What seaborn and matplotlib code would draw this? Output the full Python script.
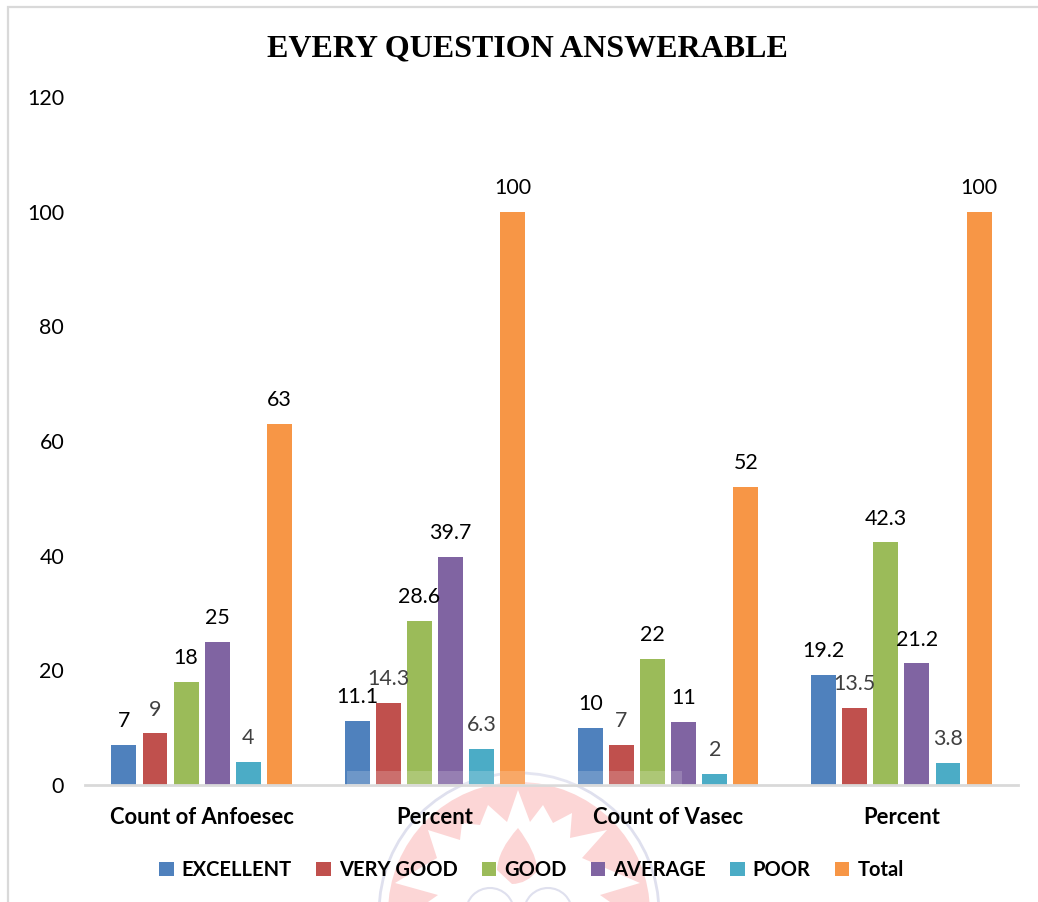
import matplotlib
matplotlib.use("Agg")
import matplotlib.pyplot as plt
import seaborn as sns
import pandas as pd
from matplotlib.patches import Circle, Polygon, Rectangle, PathPatch
from matplotlib.path import Path

group_labels = ["Count of Anfoesec", "Percent", "Count of Vasec", "Percent"]
excellent = [7, 11.1, 10, 19.2]
very_good = [9, 14.3, 7, 13.5]
good = [18, 28.6, 22, 42.3]
average = [25, 39.7, 11, 21.2]
poor = [4, 6.3, 2, 3.8]
total = [63, 100, 52, 100]
series_names = ["EXCELLENT", "VERY GOOD", "GOOD", "AVERAGE", "POOR", "Total"]
series_values = [excellent, very_good, good, average, poor, total]
colors = ["#4F81BD", "#C0504D", "#9BBB59", "#8064A2", "#4BACC6", "#F79646"]
label_colors = ["#000000", "#404040", "#000000", "#000000", "#404040", "#000000"]
yticks = [0, 20, 40, 60, 80, 100, 120]
title = "EVERY QUESTION ANSWERABLE"

df = pd.DataFrame(
    [{"group": g, "series": n, "value": v}
     for n, vals in zip(series_names, series_values)
     for g, v in enumerate(vals)]
)

W, H = 1038, 902
sns.set_theme(style="white")
plt.rcParams["font.family"] = ["Lato", "DejaVu Sans"]
fig = plt.figure(figsize=(W / 100, H / 100), dpi=100, facecolor="white")

# Background layer in pixel space: page frame and faint emblem watermark
bg = fig.add_axes([0, 0, 1, 1], zorder=0)
bg.set_xlim(0, W)
bg.set_ylim(H, 0)
bg.axis("off")
bg.plot([8, 8, W], [H, 7, 7], color="#d9d9d9", lw=1.6, solid_joinstyle="miter")
bg.add_patch(Circle((519, 913), 140, fc="none", ec="#dfe0ee", lw=2))
bg.add_patch(Circle((519, 913), 131, fc="#fcd6d6", ec="none"))
star = [(518, 790), (530, 822), (543, 805), (553, 823), (572, 813), (570, 838),
        (607, 830), (582, 858), (640, 883), (600, 895), (610, 902), (428, 902),
        (438, 895), (395, 883), (437, 858), (428, 830), (460, 840), (462, 823),
        (480, 825), (488, 805), (507, 822)]
bg.add_patch(Polygon(star, closed=True, fc="white", ec="none"))
flame = Path([(518, 828), (498, 850), (497, 870), (512, 884), (527, 884), (538, 870),
              (535, 850), (518, 828)],
             [Path.MOVETO, Path.CURVE3, Path.CURVE3, Path.LINETO, Path.CURVE3, Path.CURVE3,
              Path.CURVE3, Path.CURVE3])
bg.add_patch(PathPatch(flame, fc="#fcd6d6", ec="none"))
bg.add_patch(Circle((490, 912), 24, fc="white", ec="#dfe0ee", lw=1.5))
bg.add_patch(Circle((548, 912), 24, fc="white", ec="#dfe0ee", lw=1.5))

ax = fig.add_axes([85 / W, 1 - 785 / H, (1018 - 85) / W, (785 - 97) / H], zorder=1)
ax.patch.set_alpha(0)
sns.barplot(data=df, x="group", y="value", hue="series", hue_order=series_names,
            palette=colors, saturation=1, width=0.8, gap=0.2, errorbar=None,
            ax=ax, linewidth=0)

ax.set_xlim(-0.5, 3.5)
ax.set_ylim(0, 120)
ax.set_yticks(yticks)
ax.set_xticks(range(len(group_labels)))
ax.set_xticklabels(group_labels, fontsize=15.8, fontweight="bold", color="black")
ax.set_xlabel("")
ax.set_ylabel("")
ax.tick_params(axis="y", length=0, pad=15, labelsize=15.4, labelcolor="black")
ax.tick_params(axis="x", length=0, pad=16)
for s in ("top", "right", "left"):
    ax.spines[s].set_visible(False)
ax.spines["bottom"].set_color("#d9d9d9")
ax.spines["bottom"].set_linewidth(2)

for cont, vals, c in zip(ax.containers, series_values, label_colors):
    ax.bar_label(cont, labels=[f"{v:g}" for v in vals], padding=10,
                 fontsize=15.4, color=c)

handles, labels = ax.get_legend_handles_labels()
ax.legend(handles, labels, loc="center", bbox_to_anchor=(531.5 / W, 1 - 870 / H),
          bbox_transform=fig.transFigure, ncol=6, frameon=False,
          prop={"family": "Lato", "weight": "bold", "size": 14.5},
          handlelength=0.72, handleheight=0.72, handletextpad=0.4,
          columnspacing=1.2, labelcolor="black", borderpad=0)

fig.text(527.5 / W, 1 - 49 / H, title, family="Liberation Serif", fontweight="bold",
         fontsize=23, ha="center", va="center", color="black")

# Top layer: the page watermark's pale band over the bar bases
fg = fig.add_axes([0, 0, 1, 1], zorder=2)
fg.set_xlim(0, W)
fg.set_ylim(H, 0)
fg.axis("off")
fg.add_patch(Rectangle((347, 771), 335, 14, fc="white", alpha=0.18, ec="none"))

fig.savefig("out.png", dpi=100, facecolor="white")
